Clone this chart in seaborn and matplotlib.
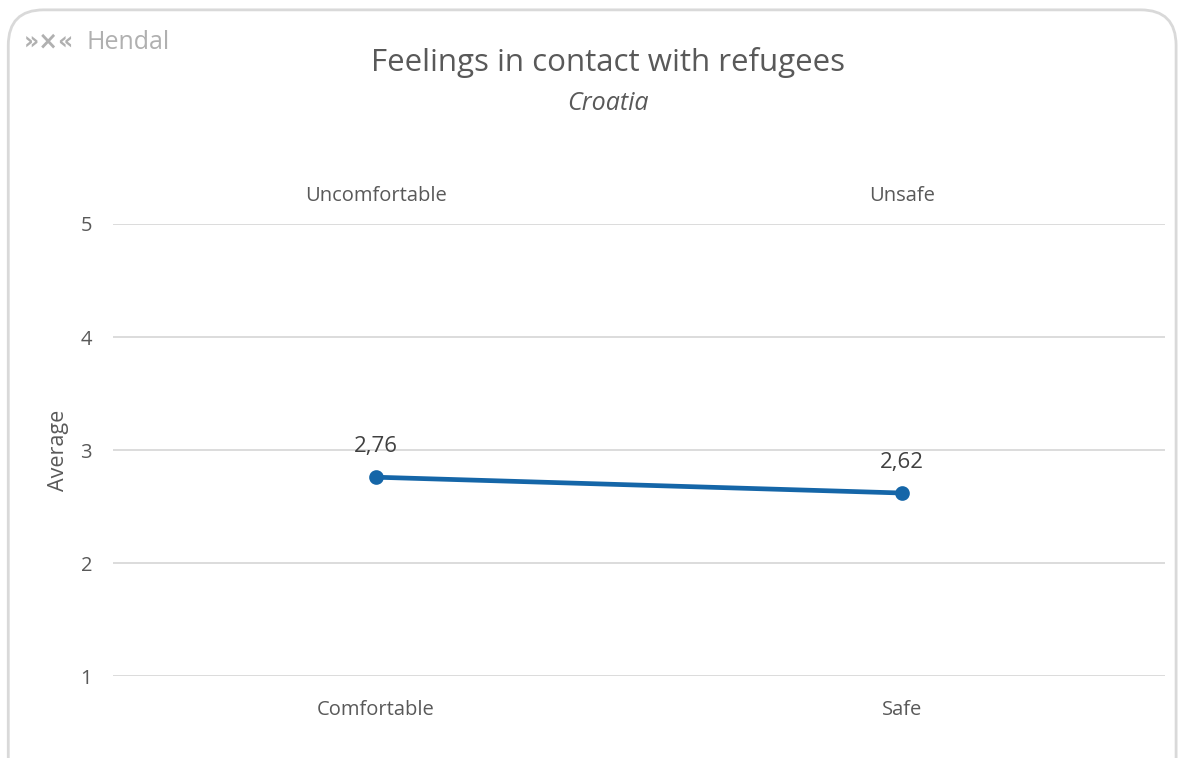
import matplotlib
matplotlib.use("Agg")
import matplotlib.pyplot as plt
import seaborn as sns
import pandas as pd
from matplotlib.patches import FancyBboxPatch

# Data
categories = ["Comfortable", "Safe"]
opposites = ["Uncomfortable", "Unsafe"]
averages = [2.76, 2.62]
labels = ["2,76", "2,62"]

df = pd.DataFrame({"feeling": categories, "average": averages})

sns.set_theme(style="white")
plt.rcParams['font.family'] = ['Open Sans', 'DejaVu Sans']

fig = plt.figure(figsize=(11.82, 7.58), dpi=100)
ax = fig.add_axes([0.0956, 0.108, 0.89, 0.5965])

grey = "#595959"
blue = "#1566a8"

sns.pointplot(data=df, x="feeling", y="average", color=blue, ax=ax,
              markers="o", linewidth=3.4, markersize=8)
ax.set_xlim(-0.5, 1.5)
ax.set_ylim(1, 5)
ax.set_yticks([1, 2, 3, 4, 5])
ax.yaxis.grid(True, color="#d9d9d9", linewidth=1.3)
ax.set_axisbelow(True)
for s in ax.spines.values():
    s.set_visible(False)
ax.tick_params(axis="both", length=0, colors=grey, labelsize=14.5)
ax.tick_params(axis="y", pad=15)
ax.tick_params(axis="x", pad=17)
ax.set_xlabel("")
ax.set_ylabel("Average", color=grey, fontsize=15.5, labelpad=8)

# top axis with the opposite feelings
top = ax.secondary_xaxis("top")
top.set_xticks(range(len(opposites)))
top.set_xticklabels(opposites)
top.tick_params(length=0, colors=grey, labelsize=14.5, pad=13)
top.spines["top"].set_visible(False)

for i, (v, t) in enumerate(zip(averages, labels)):
    ax.annotate(t, (i, v), xytext=(0, 22), textcoords="offset points",
                ha="center", va="center", color="#404040", fontsize=16)

fig.text(0.514, 0.918, "Feelings in contact with refugees", ha="center",
         va="center", fontsize=22.5, color=grey)
fig.text(0.514, 0.864, "Croatia", ha="center", va="center", fontsize=18,
         color=grey, style="italic")

# logo
fig.text(0.02, 0.945, "»×«", ha="left", va="center", fontsize=17,
         color="#b0b0b0", fontweight="bold", family="DejaVu Sans")
fig.text(0.073, 0.944, "Hendal", ha="left", va="center", fontsize=18,
         color="#b0b0b0")

# rounded border (bottom edge falls outside the picture)
border = FancyBboxPatch((0.007, -0.05), 0.988, 1.037,
                        boxstyle="round,pad=0,rounding_size=0.03",
                        transform=fig.transFigure, fill=False,
                        edgecolor="#d9d9d9", linewidth=2, mutation_aspect=1.56)
fig.patches.append(border)

fig.savefig("out.png", dpi=100)
